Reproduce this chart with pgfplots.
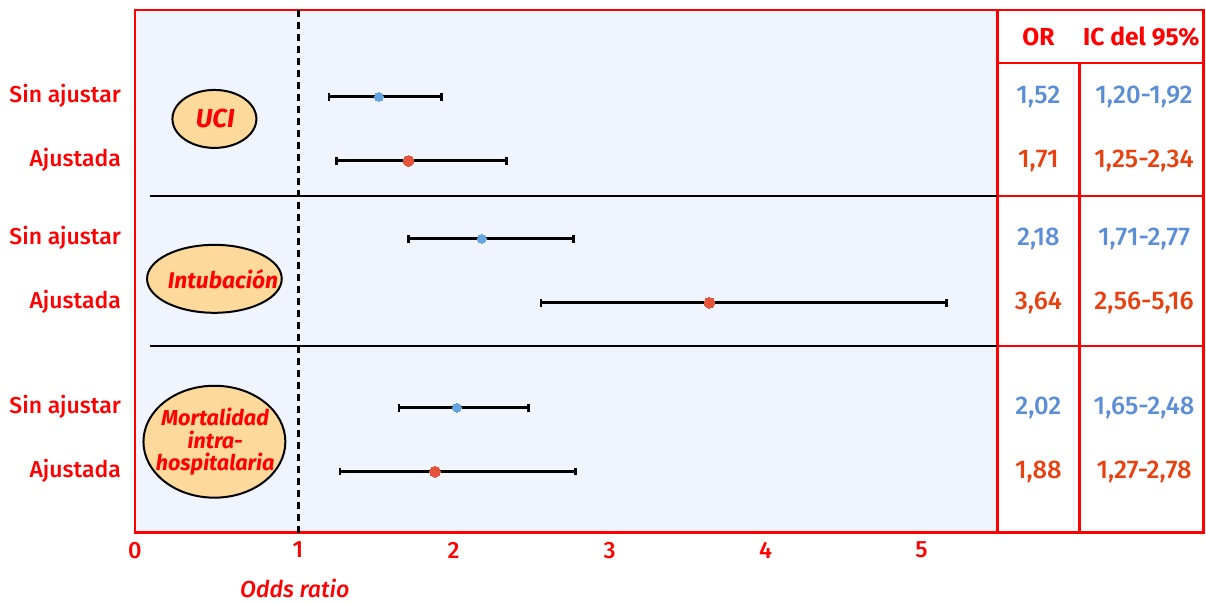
\documentclass[border=0pt]{standalone}
\usepackage{fontspec}
\setmainfont{Fira Sans}[UprightFont=* Medium, ItalicFont=* Medium Italic, BoldFont=* Bold, BoldItalicFont=* Bold Italic]
\usepackage{pgfplots}
\usepackage{pgfplotstable}
\pgfplotsset{compat=1.18}
\definecolor{lred}{HTML}{FF0000}
\definecolor{bgblue}{HTML}{F0F4FC}
\definecolor{tblue}{HTML}{5B8ED6}
\definecolor{tred}{HTML}{E8400F}
\definecolor{dblue}{HTML}{66A6E0}
\definecolor{dred}{HTML}{E5533A}
\definecolor{ellfill}{HTML}{FDD99B}

% y = row position (pixel row of the reference, top = 10)
\pgfplotstableread{
y or lo hi
97  1.52 1.20 1.92
239 2.18 1.71 2.77
408 2.02 1.65 2.48
}\sinaj
\pgfplotstableread{
y or lo hi
161 1.71 1.25 2.34
303 3.64 2.56 5.16
472 1.88 1.27 2.78
}\ajus

\begin{document}
\begin{tikzpicture}
\begin{axis}[
  scale only axis,
  width=431.5pt, height=261.5pt,
  xmin=-0.0449, xmax=5.487,
  ymin=10, ymax=533, y dir=reverse,
  clip=false,
  axis background/.style={fill=bgblue},
  axis line style={draw=lred, line width=1.2pt},
  major tick length=0pt,
  xtick={-0.0449,1,2,3,4,5},
  xticklabels={0,1,2,3,4,5},
  ytick={97,161,239,303,408,472},
  yticklabels={Sin ajustar,Ajustada,Sin ajustar,Ajustada,Sin ajustar,Ajustada},
  tick label style={text=lred, font=\fontsize{11.8}{14}\selectfont},
  xticklabel style={yshift=-1.2pt},
  yticklabel style={xshift=-3.5pt, yshift=0.4pt, font=\fontsize{11.5}{14}\selectfont},
]
% reference line at OR = 1
\addplot[black, line width=1.5pt, dash pattern=on 3.6pt off 2.4pt] coordinates {(1.005,10) (1.005,533)};
% separators
\addplot[black, line width=1pt] coordinates {(0.0513,196) (5.487,196)};
\addplot[black, line width=1pt] coordinates {(0.0513,346) (5.487,346)};

% confidence intervals
\addplot[draw=none, no marks, forget plot,
  error bars/.cd, x dir=both, x explicit,
  error bar style={line width=1.5pt, black},
  error mark=|,
  error mark options={line width=1.3pt, mark size=1.9pt, black}]
  table[x=or, y=y, x error plus expr=\thisrow{hi}-\thisrow{or}, x error minus expr=\thisrow{or}-\thisrow{lo}] {\sinaj};
\addplot[draw=none, no marks, forget plot,
  error bars/.cd, x dir=both, x explicit,
  error bar style={line width=1.5pt, black},
  error mark=|,
  error mark options={line width=1.3pt, mark size=1.9pt, black}]
  table[x=or, y=y, x error plus expr=\thisrow{hi}-\thisrow{or}, x error minus expr=\thisrow{or}-\thisrow{lo}] {\ajus};
% point estimates
\addplot[only marks, mark=*, mark size=2.2pt, color=dblue, mark options={fill=dblue, draw=dblue, line width=0pt}] table[x=or, y=y] {\sinaj};
\addplot[only marks, mark=*, mark size=2.7pt, color=dred, mark options={fill=dred, draw=dred, line width=0pt}] table[x=or, y=y] {\ajus};

% group ellipses
\draw[fill=ellfill, line width=1pt] (axis cs:0.465,119) ellipse [x radius=21pt, y radius=14.5pt];
\node[text=lred, font=\fontsize{13}{15}\selectfont\bfseries\itshape] at (axis cs:0.47,119) {UCI};
\draw[fill=ellfill, line width=1pt] (axis cs:0.465,279) ellipse [x radius=33.7pt, y radius=17pt];
\node[text=lred, font=\fontsize{11.4}{13}\selectfont\bfseries\itshape] at (axis cs:0.52,279) {Intubación};
\draw[fill=ellfill, line width=1pt] (axis cs:0.465,442) ellipse [x radius=35.5pt, y radius=28pt];
\node[text=lred, align=center, font=\fontsize{10.8}{11.2}\selectfont\bfseries\itshape] at (axis cs:0.47,442) {Mortalidad\\intra-\\hospitalaria};

% x label
\node[text=lred, font=\fontsize{11.6}{13}\selectfont\itshape] at (axis cs:0.981,589) {Odds ratio};

% table
\draw[lred, line width=1.2pt] (axis cs:5.487,10) -- (axis cs:6.808,10) -- (axis cs:6.808,533) -- (axis cs:5.487,533);
\draw[lred, line width=1.2pt] (axis cs:5.487,63) -- (axis cs:6.808,63);
\draw[lred, line width=1.2pt] (axis cs:5.487,196) -- (axis cs:6.808,196);
\draw[lred, line width=1.2pt] (axis cs:5.487,346) -- (axis cs:6.808,346);
\draw[lred, line width=1.2pt] (axis cs:6.013,63) -- (axis cs:6.013,533);
\begin{scope}[every node/.style={font=\fontsize{12.8}{14}\selectfont}]
\node[text=lred, font=\fontsize{12.3}{14}\selectfont\bfseries] at (axis cs:5.750,37) {OR};
\node[text=lred, font=\fontsize{12.3}{14}\selectfont\bfseries] at (axis cs:6.41,37) {IC del 95\%};
\node[text=tblue] at (axis cs:5.750,97) {1,52};
\node[text=tblue] at (axis cs:6.428,97) {1,20-1,92};
\node[text=tred] at (axis cs:5.750,161) {1,71};
\node[text=tred] at (axis cs:6.428,161) {1,25-2,34};
\node[text=tblue] at (axis cs:5.750,239) {2,18};
\node[text=tblue] at (axis cs:6.428,239) {1,71-2,77};
\node[text=tred] at (axis cs:5.750,303) {3,64};
\node[text=tred] at (axis cs:6.428,303) {2,56-5,16};
\node[text=tblue] at (axis cs:5.750,408) {2,02};
\node[text=tblue] at (axis cs:6.428,408) {1,65-2,48};
\node[text=tred] at (axis cs:5.750,472) {1,88};
\node[text=tred] at (axis cs:6.428,472) {1,27-2,78};
\end{scope}
% overall picture extent
\path (axis cs:-0.9103,0) rectangle (axis cs:6.8205,601);
\end{axis}
\end{tikzpicture}
\end{document}
